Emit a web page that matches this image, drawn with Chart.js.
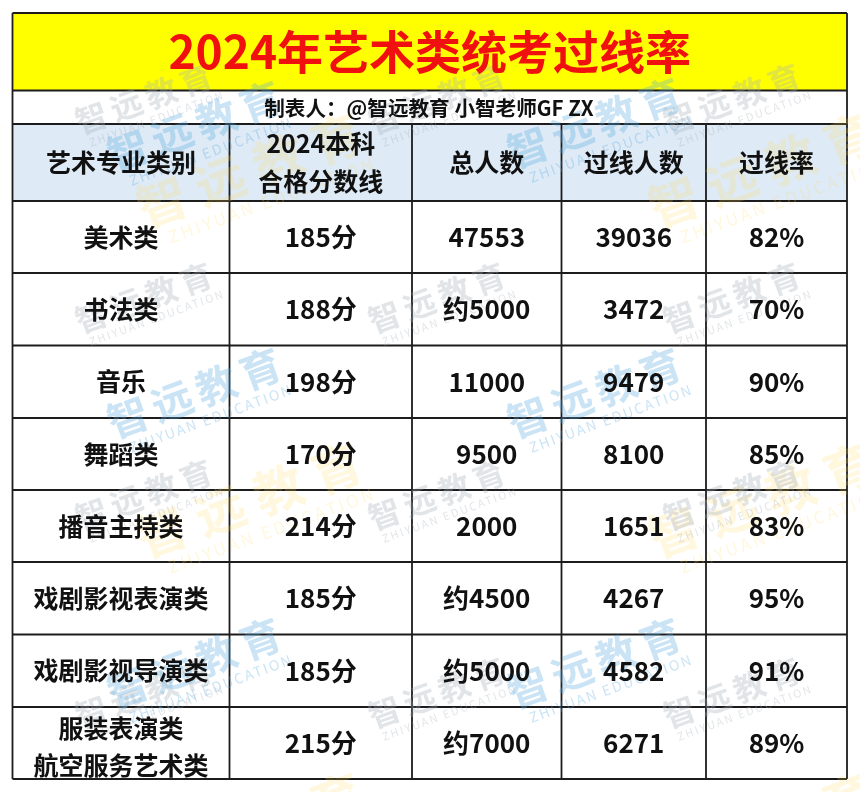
<!DOCTYPE html>
<html>
<head>
<meta charset="utf-8">
<title>2024年艺术类统考过线率</title>
<script src="https://cdn.jsdelivr.net/npm/chart.js@4"></script>
<style>
    html, body { margin: 0; padding: 0; background: #fff; }
    canvas { display: block; }
</style>
</head>
<body>
<canvas id="table" width="860" height="792"></canvas>
<script>
"use strict";

const titleText = '2024年艺术类统考过线率';
const makerText = '制表人：@智远教育 小智老师GF ZX';
const headers = ['艺术专业类别', '2024本科\n合格分数线', '总人数', '过线人数', '过线率'];
const categories = ['美术类', '书法类', '音乐', '舞蹈类', '播音主持类', '戏剧影视表演类', '戏剧影视导演类', '服装表演类\n航空服务艺术类'];
const scoreLines = [185, 188, 198, 170, 214, 185, 185, 215];
const totals = ['47553', '约5000', '11000', '9500', '2000', '约4500', '约5000', '约7000'];
const passed = [39036, 3472, 9479, 8100, 1651, 4267, 4582, 6271];
const rates = [82, 70, 90, 85, 83, 95, 91, 89];

// table geometry, in scale units
const colEdges = [12.5, 229.5, 412, 561.5, 706, 847];
const rowEdges = [124, 201, 273, 345.5, 418, 490, 562, 634.5, 707, 779];
const tableTop = 13;
const titleBottom = 90.5;

const lineColor = '#1c1c1c';
const textColor = '#111';
const fontFamily = '"Noto Sans CJK SC", "Noto Sans", sans-serif';

function band(top, bottom, color) {
    return {
        data: [{x: colEdges[0], y: top}, {x: colEdges[5], y: top}],
        fill: {value: bottom},
        backgroundColor: color,
        borderWidth: 0,
        pointRadius: 0,
        order: 5
    };
}

function rule(x0, y0, x1, y1) {
    return {
        data: [{x: x0, y: y0}, {x: x1, y: y1}],
        borderColor: lineColor,
        borderWidth: 1.8,
        pointRadius: 0,
        fill: false,
        order: 1
    };
}

let datasets = [
    band(tableTop, titleBottom, '#ffff00'),
    band(rowEdges[0], rowEdges[1], '#deeaf6')
];
[tableTop, titleBottom].concat(rowEdges).forEach(y => {
    datasets.push(rule(colEdges[0], y, colEdges[5], y));
});
colEdges.forEach((x, i) => {
    // only the outer edges run up through the title rows
    let top = (i === 0 || i === 5) ? tableTop : rowEdges[0];
    datasets.push(rule(x, top, x, rowEdges[9]));
});

// watermark stamps: [centre x, centre y]
const greyMarks = [[146, 98], [439, 98], [734, 98], [146, 297], [439, 297], [734, 297],
    [146, 494], [439, 494], [734, 494], [146, 692], [439, 692], [734, 692]];
const blueMarks = [[197, 125], [597, 122], [197, 392], [597, 392], [197, 662], [597, 662]];
const yellowMarks = [[255, 168], [767, 168], [255, 498], [767, 498], [255, 828], [767, 828]];

function stamp(ctx, x, y, size, gap, color) {
    ctx.save();
    ctx.translate(x, y);
    ctx.rotate(-20 * Math.PI / 180);
    ctx.fillStyle = color;
    ctx.textAlign = 'center';
    ctx.textBaseline = 'middle';
    ctx.font = 'bold ' + size + 'px ' + fontFamily;
    ctx.letterSpacing = gap + 'px';
    ctx.fillText('智远教育', 0, 0);
    ctx.font = Math.round(size * 0.33) + 'px ' + fontFamily;
    ctx.letterSpacing = Math.round(size * 0.06) + 'px';
    ctx.fillText('ZHIYUAN EDUCATION', size * 0.1, size * 0.72);
    ctx.restore();
}

function cellText(ctx, text, x, y, lineHeight, nudge) {
    let lines = text.split('\n');
    lines.forEach((line, i) => {
        ctx.fillText(line, x, y + nudge + (i - (lines.length - 1) / 2) * lineHeight);
    });
}

const tableText = {
    id: 'tableText',
    afterDatasetsDraw(chart) {
        let ctx = chart.ctx;
        let sx = chart.scales.x;
        let sy = chart.scales.y;
        let midX = i => sx.getPixelForValue((colEdges[i] + colEdges[i + 1]) / 2);
        let midY = i => sy.getPixelForValue((rowEdges[i] + rowEdges[i + 1]) / 2);

        yellowMarks.forEach(m => stamp(ctx, sx.getPixelForValue(m[0]), sy.getPixelForValue(m[1]), 50, 12, 'rgba(255,215,90,0.20)'));
        greyMarks.forEach(m => stamp(ctx, sx.getPixelForValue(m[0]), sy.getPixelForValue(m[1]), 32, 5, 'rgba(165,175,185,0.32)'));
        blueMarks.forEach(m => stamp(ctx, sx.getPixelForValue(m[0]), sy.getPixelForValue(m[1]), 41, 6, 'rgba(90,170,225,0.32)'));

        ctx.save();
        ctx.textAlign = 'center';
        ctx.textBaseline = 'middle';

        ctx.fillStyle = '#f01010';
        ctx.font = 'bold 46px ' + fontFamily;
        ctx.fillText(titleText, sx.getPixelForValue((colEdges[0] + colEdges[5]) / 2), sy.getPixelForValue(52));

        ctx.fillStyle = textColor;
        ctx.font = 'bold 20.6px ' + fontFamily;
        ctx.fillText(makerText, sx.getPixelForValue(429), sy.getPixelForValue(108));

        ctx.font = 'bold 25px ' + fontFamily;
        headers.forEach((h, c) => cellText(ctx, h, midX(c), midY(0), 38, 0));
        categories.forEach((name, r) => {
            let row = r + 1;
            ctx.font = 'bold 25px ' + fontFamily;
            cellText(ctx, name, midX(0), midY(row), 37, name.indexOf('\n') >= 0 ? 3.5 : 0);
            ctx.font = 'bold 26px ' + fontFamily;
            cellText(ctx, scoreLines[r] + '分', midX(1), midY(row), 37, 0);
            cellText(ctx, totals[r], midX(2), midY(row), 37, 0);
            cellText(ctx, String(passed[r]), midX(3), midY(row), 37, 0);
            cellText(ctx, rates[r] + '%', midX(4), midY(row), 37, 0);
        });
        ctx.restore();
    }
};

new Chart(document.getElementById('table'), {
    type: 'line',
    data: {datasets: datasets},
    plugins: [tableText],
    options: {
        responsive: false,
        animation: false,
        parsing: false,
        layout: {padding: 0},
        scales: {
            x: {type: 'linear', display: false, min: 0, max: 860},
            y: {type: 'linear', display: false, min: 0, max: 792, reverse: true}
        },
        plugins: {
            legend: {display: false},
            tooltip: {enabled: false}
        }
    }
});
</script>
</body>
</html>
